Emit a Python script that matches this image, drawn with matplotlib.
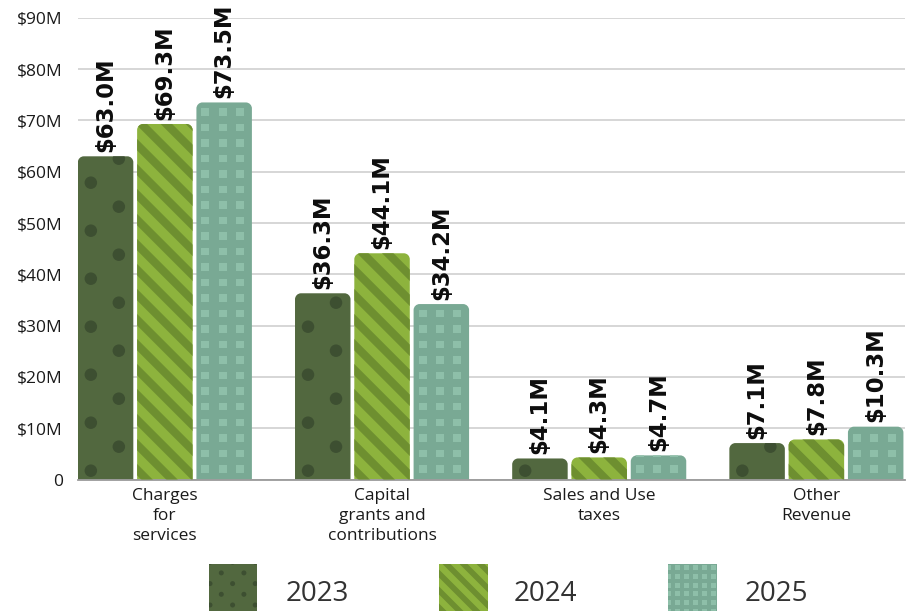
import matplotlib
matplotlib.use("Agg")
import matplotlib.pyplot as plt
import numpy as np
from matplotlib.path import Path
from matplotlib.patches import PathPatch, Ellipse, Rectangle, Polygon

# ---- data -------------------------------------------------------------
categories = ["Charges\nfor\nservices",
              "Capital\ngrants and\ncontributions",
              "Sales and Use\ntaxes",
              "Other\nRevenue"]
years = ["2023", "2024", "2025"]
rev_2023 = [63.0, 36.3, 4.1, 7.1]
rev_2024 = [69.3, 44.1, 4.3, 7.8]
rev_2025 = [73.5, 34.2, 4.7, 10.3]
y_ticks = [0, 10, 20, 30, 40, 50, 60, 70, 80, 90]
y_tick_labels = ["0", "$10M", "$20M", "$30M", "$40M", "$50M",
                 "$60M", "$70M", "$80M", "$90M"]

series = [rev_2023, rev_2024, rev_2025]

# ---- styling ----------------------------------------------------------
base_colors = ["#52683f", "#8db33d", "#79a994"]
accent_colors = ["#3d4f31", "#6e8f30", "#8ebfa9"]
text_font = "Open Sans"

W, H = 912, 611
fig = plt.figure(figsize=(W / 100, H / 100), dpi=100)
ax = fig.add_axes([78 / W, (H - 479.5) / H, (905 - 78) / W, 461.7 / H])
ax.set_xlim(-0.4, 3.408)
ax.set_ylim(0, 90)

ax.set_yticks(y_ticks, y_tick_labels)
x = np.arange(len(categories))
ax.set_xticks(x, categories)
ax.tick_params(axis="y", length=0, pad=11, labelsize=12.5, labelcolor="#1a1a1a")
ax.tick_params(axis="x", length=0, pad=6, labelsize=12.5, labelcolor="#1a1a1a")
for lab in ax.get_xticklabels() + ax.get_yticklabels():
    lab.set_fontfamily(text_font)
for lab in ax.get_xticklabels():
    lab.set_linespacing(1.32)

ax.grid(axis="y", color="#d3d3d3", linewidth=1.3)
ax.set_axisbelow(True)
for side in ("top", "right", "left"):
    ax.spines[side].set_visible(False)
ax.spines["bottom"].set_color("#9a9a9a")
ax.spines["bottom"].set_linewidth(1.3)

# pixels per data unit
o = ax.transData.transform((0, 0))
p = ax.transData.transform((1, 1))
sx, sy = p[0] - o[0], p[1] - o[1]


# ---- pattern helpers (offsets given in pixels from a patch's lower-left) --
def add_dots(target, x0, y0, w, h, clip, color, kx, ky, x_off, half, col_p, y_start, row_p, diam, z):
    r = 0
    y = y_start
    while y - diam < h:
        xs = x_off + (r % 2) * half
        xx = xs - col_p * 3
        while xx - diam < w:
            e = Ellipse((x0 + xx / kx, y0 + y / ky), diam / kx, diam / ky,
                        facecolor=color, edgecolor="none", zorder=z)
            target.add_patch(e)
            e.set_clip_path(clip)
            xx += col_p
        r += 1
        y += row_p


def add_stripes(target, x0, y0, w, h, clip, color, kx, ky, period, dark, phase, z):
    # dark bands where a <= x + y <= a + dark (runs from upper left to lower right)
    a = -2 * period + phase
    while a < w + h + period:
        b = a + dark
        pts = [(a + 10, -10), (b + 10, -10), (b - (h + 10), h + 10), (a - (h + 10), h + 10)]
        poly = Polygon([(x0 + px / kx, y0 + py / ky) for px, py in pts],
                       closed=True, facecolor=color, edgecolor="none", zorder=z)
        target.add_patch(poly)
        poly.set_clip_path(clip)
        a += period


def add_squares(target, x0, y0, w, h, clip, color, kx, ky, x_off, y_off, col_p, row_p, sw, sh, z):
    y = y_off
    while y < h:
        xx = x_off - col_p * 2
        while xx < w:
            rect = Rectangle((x0 + xx / kx, y0 + y / ky), sw / kx, sh / ky,
                             facecolor=color, edgecolor="none", zorder=z)
            target.add_patch(rect)
            rect.set_clip_path(clip)
            xx += col_p
        y += row_p


def rounded_top(x0, w, h, rx, ry):
    k = 0.5523
    x1 = x0 + w
    ry = min(ry, h)
    verts = [(x0, 0), (x0, h - ry), (x0, h - ry + k * ry), (x0 + rx - k * rx, h), (x0 + rx, h),
             (x1 - rx, h), (x1 - rx + k * rx, h), (x1, h - ry + k * ry), (x1, h - ry),
             (x1, 0), (x0, 0)]
    codes = [Path.MOVETO, Path.LINETO, Path.CURVE4, Path.CURVE4, Path.CURVE4,
             Path.LINETO, Path.CURVE4, Path.CURVE4, Path.CURVE4,
             Path.LINETO, Path.CLOSEPOLY]
    return Path(verts, codes)


# ---- bars -------------------------------------------------------------
bar_w = 0.2555
step = 0.273
radius_px = 6

for j, vals in enumerate(series):
    bars = ax.bar(x + (j - 1) * step, vals, width=bar_w, color=base_colors[j])
    for rect, v in zip(bars, vals):
        rect.set_visible(False)
        bx, bw, bh = rect.get_x(), rect.get_width(), rect.get_height()
        shape = PathPatch(rounded_top(bx, bw, bh, radius_px / sx, radius_px / sy),
                          facecolor=base_colors[j], edgecolor="none", zorder=2)
        ax.add_patch(shape)
        wpx, hpx = bw * sx, bh * sy
        if j == 0:
            add_dots(ax, bx, 0, wpx, hpx, shape, accent_colors[0], sx, sy,
                     x_off=13, half=28, col_p=56, y_start=8.8, row_p=24, diam=12.5, z=3)
        elif j == 1:
            add_stripes(ax, bx, 0, wpx, hpx, shape, accent_colors[1], sx, sy,
                        period=25, dark=11.5, phase=4, z=3)
        else:
            add_squares(ax, bx, 0, wpx, hpx, shape, accent_colors[2], sx, sy,
                        x_off=5, y_off=7, col_p=17.3, row_p=15.5, sw=8, sh=7.5, z=3)
        ax.annotate(f"${v:.1f}M", xy=(rect.get_x() + bw / 2, bh),
                    xytext=(0, 3), textcoords="offset points",
                    rotation=90, ha="center", va="bottom",
                    fontsize=16.4, fontweight="bold", family="DejaVu Sans",
                    color="#0d0d0d", annotation_clip=False, zorder=5)

# ---- legend (drawn in figure pixel space) ------------------------------
lg = fig.add_axes([0, 0, 1, 1], zorder=10)
lg.set_xlim(0, W)
lg.set_ylim(0, H)
lg.axis("off")
lg.patch.set_alpha(0)

legend_left = [209, 439.5, 668.5]
legend_text_x = [286, 513.5, 745]
sw_w, sw_top, sw_bot = 48.5, H - 564, -3
for j, yr in enumerate(years):
    lx = legend_left[j]
    hh = sw_top - sw_bot
    sw = Rectangle((lx, sw_bot), sw_w, hh, facecolor=base_colors[j],
                   edgecolor="none", zorder=2)
    lg.add_patch(sw)
    if j == 0:
        add_dots(lg, lx, sw_bot, sw_w, hh, sw, accent_colors[0], 1, 1,
                 x_off=1, half=11.3, col_p=22.6, y_start=9, row_p=10.7, diam=5, z=3)
    elif j == 1:
        add_stripes(lg, lx, sw_bot, sw_w, hh, sw, accent_colors[1], 1, 1,
                    period=17, dark=8, phase=2, z=3)
    else:
        add_squares(lg, lx, sw_bot, sw_w, hh, sw, accent_colors[2], 1, 1,
                    x_off=6.5, y_off=0, col_p=9, row_p=8.8, sw=5, sh=5, z=3)
    lg.text(legend_text_x[j], H - 600.7, yr, fontsize=20, family=text_font,
            color="#333333", ha="left", va="baseline")

fig.savefig("out.png", dpi=100)
